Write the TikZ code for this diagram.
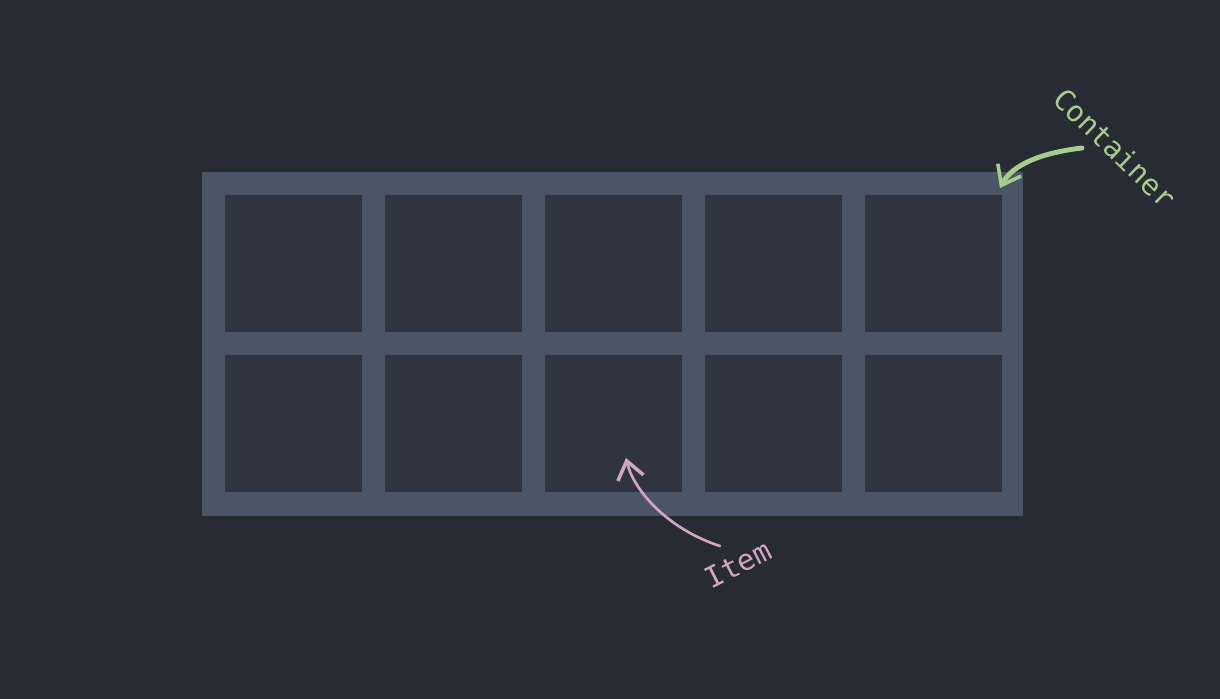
\documentclass[tikz,border=0pt]{standalone}
\usepackage{fontspec}
\setmonofont{DejaVu Sans Mono}
\usetikzlibrary{arrows.meta}
\definecolor{bgdark}{HTML}{272B33}
\definecolor{boxgray}{HTML}{4A5568}
\definecolor{celldark}{HTML}{2F3540}
\definecolor{labelgreen}{HTML}{A6CC8E}
\definecolor{labelpink}{HTML}{D2A4C6}
\tikzset{
  gridbox/.style={fill=boxgray, draw=none, minimum width=16.42cm, minimum height=6.88cm, inner sep=0pt},
  itembox/.style={fill=celldark, draw=none, minimum size=2.74cm, inner sep=0pt},
  note/.style={font=\ttfamily\fontsize{16.5}{16.5}\selectfont, inner sep=0pt},
  pointer/.style={line cap=round, -{Straight Barb[length=10pt,width=15pt,line width=2pt]}}
}
\begin{document}
\begin{tikzpicture}[x=0.02cm, y=-0.02cm]
                        \fill[bgdark] (0,0) rectangle (1220,699);
                        \useasboundingbox (0,0) rectangle (1220,699);

                        \node [gridbox] (container) at (612.5,344) {};
                        \foreach \r in {1,2} {
                            \foreach \c in {1,...,5} {
                                \node [itembox] (item-\r-\c) at ({293.5+160*(\c-1)},{263.5+160*(\r-1)}) {};
                            }
                        }

                        \node [note, text=labelgreen, rotate=-44] (container label) at (1115,148) {Container};
                        \node [note, text=labelpink, rotate=27] (item label) at (738,564) {Item};

                        \coordinate (container tail) at (1082,148);
                        \coordinate (container tip) at (1000,188);
                        \coordinate (item tail) at (720,546);
                        \coordinate (item tip) at (626,458);

                        \draw [pointer, labelgreen, line width=2.8pt] (container tail) .. controls (1040,153) and (1012,165) .. (container tip);
                        \draw [pointer, labelpink, line width=1.5pt] (item tail) .. controls (670,530) and (634,492) .. (item tip);
                    \end{tikzpicture}
\end{document}
